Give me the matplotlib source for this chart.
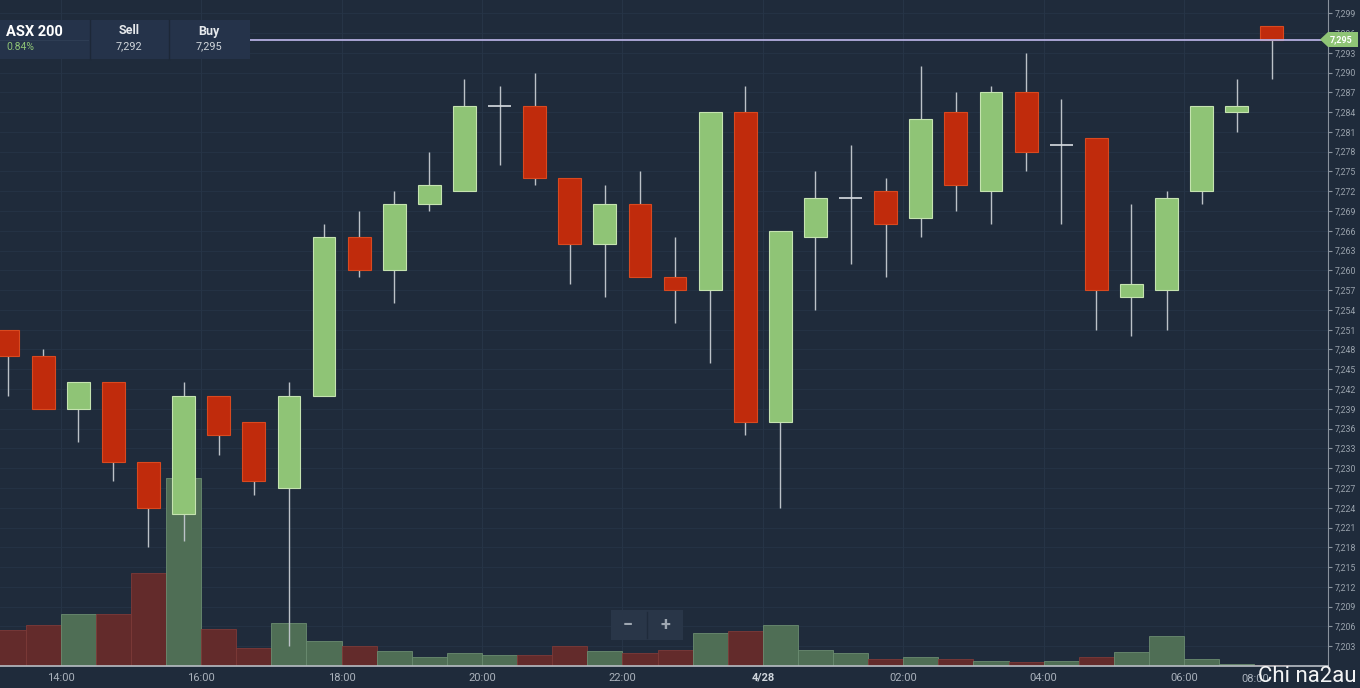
import matplotlib.pyplot as plt
from matplotlib.patches import Rectangle, Polygon
import numpy as np

plt.rcParams['font.family'] = ['Roboto', 'DejaVu Sans']

# 30-minute candles, first one centred at 13:15
opens = [7251, 7247, 7239, 7243, 7231, 7223, 7241, 7237, 7227, 7241, 7265, 7260, 7270,
         7272, 7285, 7285, 7274, 7264, 7270, 7259, 7257, 7284, 7237, 7265, 7271, 7272,
         7268, 7284, 7272, 7287, 7279, 7280, 7256, 7257, 7272, 7284, 7297]
highs = [7251, 7248, 7243, 7243, 7231, 7243, 7241, 7237, 7243, 7267, 7269, 7272, 7278,
         7289, 7288, 7290, 7274, 7273, 7275, 7265, 7284, 7288, 7266, 7275, 7279, 7274,
         7291, 7287, 7288, 7293, 7286, 7280, 7270, 7272, 7285, 7289, 7297]
lows = [7241, 7239, 7234, 7228, 7218, 7219, 7232, 7226, 7203, 7241, 7259, 7255, 7269,
        7272, 7276, 7273, 7258, 7256, 7259, 7252, 7246, 7235, 7224, 7254, 7261, 7259,
        7265, 7269, 7267, 7275, 7267, 7251, 7250, 7251, 7270, 7281, 7289]
closes = [7247, 7239, 7243, 7231, 7224, 7241, 7235, 7228, 7241, 7265, 7260, 7270, 7273,
          7285, 7285, 7274, 7264, 7270, 7259, 7257, 7284, 7237, 7266, 7271, 7271, 7267,
          7283, 7273, 7287, 7278, 7279, 7257, 7258, 7271, 7285, 7285, 7295]
volumes = [36, 41, 52, 52, 93, 188, 37, 18, 43, 25, 20, 15, 9, 13, 11, 11, 20, 15, 13,
           16, 33, 35, 41, 16, 13, 7, 9, 7, 5, 4, 5, 9, 14, 30, 7, 2, 1]

time_ticks = [1.5, 5.5, 9.5, 13.5, 17.5, 21.5, 25.5, 29.5, 33.5]
time_labels = ["14:00", "16:00", "18:00", "20:00", "22:00", "4/28", "02:00", "04:00", "06:00"]
price_ticks = list(range(7203, 7300, 3))

symbol = "ASX 200"
change = "0.84%"
sell_price = 7292
buy_price = 7295
last_price = 7295

BG = "#1f2b3b"
GRID = "#263446"
UP = "#8fc476"
DOWN = "#c02b0c"
UP_VOL = "#4f6e55"
DOWN_VOL = "#632b2b"
WICK = "#bcc2c8"
TXT = "#aab2bc"

W, H = 1360, 688
fig = plt.figure(figsize=(W / 100, H / 100), dpi=100)
fig.patch.set_facecolor(BG)

rect = [0, 22 / H, 1328 / W, 666 / H]
axv = fig.add_axes(rect)
ax = fig.add_axes(rect, sharex=axv)
axv.set_facecolor(BG)
ax.patch.set_visible(False)

x = np.arange(len(opens))

# volume
vcol = [UP_VOL if c >= o else DOWN_VOL for o, c in zip(opens, closes)]
vedge = ["#6b8c70" if c >= o else "#7d3a38" for o, c in zip(opens, closes)]
axv.bar(x, volumes, width=1.0, color=vcol, edgecolor=vedge, linewidth=0.6, zorder=2)
axv.set_ylim(0, 666)
axv.axis("off")
for t in time_ticks:
    axv.axvline(t, color=GRID, lw=0.8, zorder=1)
for p in price_ticks:
    axv.axhline((p - 7200) / 101 * 666, color=GRID, lw=0.6, zorder=1)

# candles
bw = 0.65
for i in x:
    o, h, l, c = opens[i], highs[i], lows[i], closes[i]
    ax.vlines(i, l, h, color=WICK, lw=1.0, zorder=2)
    if o == c:
        ax.hlines(o, i - bw / 2, i + bw / 2, color="#d8dde2", lw=1.2, zorder=3)
        continue
    up = c > o
    ax.add_patch(Rectangle((i - bw / 2, min(o, c)), bw, abs(c - o),
                           facecolor=UP if up else DOWN,
                           edgecolor="#c5e3b0" if up else "#d9491f",
                           lw=0.8, zorder=3))

ax.axhline(last_price, color="#b4aee0", lw=1.3, zorder=4)

ax.set_xlim(-0.23, 37.6)
ax.set_ylim(7200, 7301)
ax.set_xticks(time_ticks)
ax.set_xticklabels(time_labels, color=TXT, fontsize=8)
ax.get_xticklabels()[5].set_fontweight("bold")
ax.get_xticklabels()[5].set_color("#d0d6dc")
ax.tick_params(axis="x", length=0, pad=5)
ax.yaxis.tick_right()
ax.set_yticks(price_ticks)
ax.set_yticklabels([f"{p:,}" for p in price_ticks], color="#9aa3ad", fontsize=6.3)
ax.tick_params(axis="y", length=3, width=0.8, color="#8a939d", pad=2)
for s in ["top", "left"]:
    ax.spines[s].set_visible(False)
ax.spines["right"].set_color("#8a939d")
ax.spines["bottom"].set_color("#b8bec4")
ax.spines["bottom"].set_linewidth(1.2)

# overlay in pixel units for the panels
ov = fig.add_axes([0, 0, 1, 1], zorder=10)
ov.set_xlim(0, W)
ov.set_ylim(H, 0)
ov.axis("off")
ov.patch.set_visible(False)

ov.add_patch(Rectangle((0, 20), 250, 39, facecolor="#25334a", edgecolor="none"))
ov.plot([90, 90], [20, 59], color="#1d2838", lw=1)
ov.plot([169, 169], [20, 59], color="#1d2838", lw=1)
ov.plot([0, 88], [39.5, 39.5], color="#2e3d54", lw=0.8)
ov.text(6, 32, symbol, color="white", fontsize=10.5, fontweight="bold", va="center")
ov.text(6, 47, change, color=UP, fontsize=7.5, va="center")
ov.text(129, 31, "Sell", color="#e6e9ec", fontsize=9, fontweight="bold", ha="center", va="center")
ov.text(129, 46, f"{sell_price:,}", color="#d0d5da", fontsize=7.8, ha="center", va="center")
ov.text(209, 31, "Buy", color="#e6e9ec", fontsize=9, fontweight="bold", ha="center", va="center")
ov.text(209, 46, f"{buy_price:,}", color="#d0d5da", fontsize=7.8, ha="center", va="center")

# last price tag
ov.add_patch(Polygon([(1320, 39.5), (1328, 32), (1358, 32), (1358, 47), (1328, 47)],
                     closed=True, facecolor=UP, edgecolor="none"))
ov.text(1341, 39.5, f"{last_price:,}", color="white", fontsize=6.5, fontweight="bold",
        ha="center", va="center")

# zoom buttons
ov.add_patch(Rectangle((611, 610), 72, 30, facecolor="#293648", edgecolor="none"))
ov.plot([647, 647], [612, 638], color="#1f2b3b", lw=1)
ov.text(628, 625, "\u2212", color="#9ea7b1", fontsize=13, fontweight="bold", ha="center", va="center")
ov.text(665, 625, "+", color="#9ea7b1", fontsize=13, fontweight="bold", ha="center", va="center")

ov.text(1255, 679, "08:00", color=TXT, fontsize=8, ha="center", va="center")
ov.text(1357, 677, "Chi na2au", color="white", fontsize=16, ha="right", va="center",
        alpha=0.95)

fig.savefig("out.png", dpi=100, facecolor=BG)
